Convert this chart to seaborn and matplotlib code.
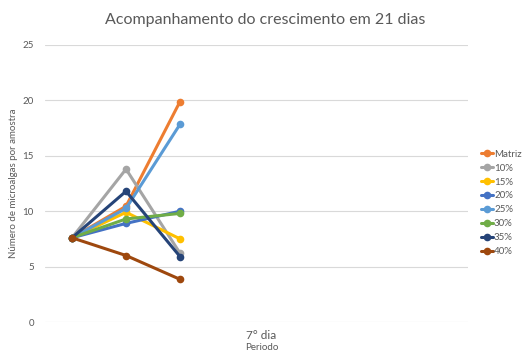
import matplotlib
matplotlib.use("Agg")
import matplotlib.pyplot as plt
import seaborn as sns
import pandas as pd

title = "Acompanhamento do crescimento em 21 dias"
series_names = ["Matriz", "10%", "15%", "20%", "25%", "30%", "35%", "40%"]
sample_idx = [0, 1, 2]
matriz = [7.6, 10.45, 19.9]
p10 = [7.6, 13.8, 6.2]
p15 = [7.6, 9.9, 7.5]
p20 = [7.6, 8.9, 10.0]
p25 = [7.6, 10.25, 17.85]
p30 = [7.6, 9.3, 9.8]
p35 = [7.6, 11.8, 5.9]
p40 = [7.6, 6.0, 3.85]
category_label = "7° dia"
y_ticks = [0, 5, 10, 15, 20, 25]
colors = ["#ED7D31", "#A5A5A5", "#FFC000", "#4472C4", "#5B9BD5", "#70AD47", "#264478", "#9E480E"]

values = [matriz, p10, p15, p20, p25, p30, p35, p40]
rows = []
for name, vals in zip(series_names, values):
    for x, v in zip(sample_idx, vals):
        rows.append({"x": x, "y": v, "serie": name})
df = pd.DataFrame(rows)

sns.set_theme(style="white")
plt.rcParams['font.family'] = ['Lato', 'DejaVu Sans']
grey = "#595959"

fig = plt.figure(figsize=(5.31, 3.53), dpi=100)
ax = fig.add_axes([45/531, 1-322/353, (468-45)/531, (322-45)/353])

sns.lineplot(data=df, x="x", y="y", hue="serie", palette=colors, hue_order=series_names,
             marker="o", markersize=5.5, markeredgewidth=0, linewidth=2.2, ax=ax, legend=True)

ax.set_xlim(-0.5, 7.33)
ax.set_ylim(0, 25)
ax.set_yticks(y_ticks)
ax.set_yticklabels([str(t) for t in y_ticks], fontsize=7, color=grey)
ax.tick_params(axis='y', length=0, pad=8)
ax.set_xticks([])
ax.set_xlabel("")
ax.set_ylabel("Número de microalgas por amostra", fontsize=7, color=grey, labelpad=3)
ax.grid(axis='y', color="#D9D9D9", linewidth=0.8)
ax.set_axisbelow(True)
for s in ax.spines.values():
    s.set_visible(False)

ax.text(0.5 + 0.012, -0.047, category_label, transform=ax.transAxes, ha='center', va='center',
        fontsize=8.5, color=grey, zorder=10, clip_on=False,
        bbox=dict(facecolor='white', edgecolor='none', pad=4))
ax.text(0.5 + 0.012, -0.093, "Periodo", transform=ax.transAxes, ha='center', va='center',
        fontsize=7, color=grey, clip_on=False, zorder=11)

fig.text(0.5, 1-20/353, title, ha='center', va='center', fontsize=11.5, color=grey)

leg = ax.legend(loc='upper left', bbox_to_anchor=(477/531, 1-146/353), bbox_transform=fig.transFigure,
                frameon=False, fontsize=7, handlelength=1.2, handletextpad=0.15,
                labelspacing=0.5, borderaxespad=0)
for t in leg.get_texts():
    t.set_color(grey)

fig.savefig("out.png", dpi=100)
